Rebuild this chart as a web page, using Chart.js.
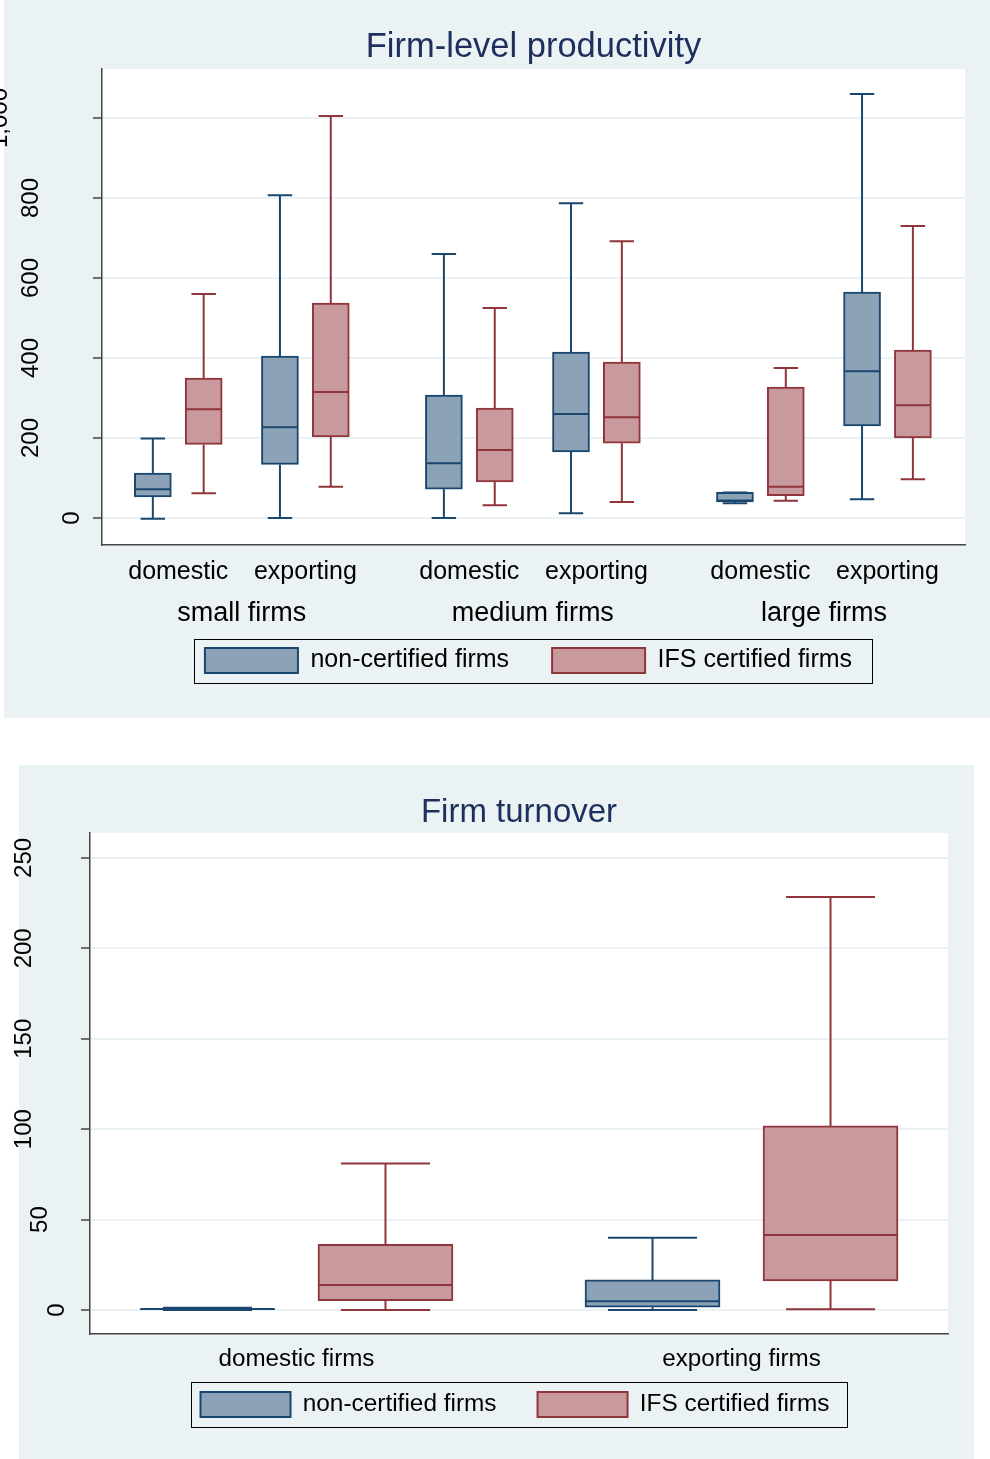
<!DOCTYPE html>
<html>
<head>
<meta charset="utf-8">
<script src="https://cdn.jsdelivr.net/npm/chart.js@4.4.1/dist/chart.umd.min.js"></script>
<style>
  body { margin: 0; background: #fff; }
  canvas { position: absolute; }
</style>
</head>
<body>
<canvas id="prod" width="990" height="718" style="left:0px;top:0px"></canvas>
<canvas id="turn" width="974" height="694" style="left:0px;top:765px"></canvas>
<script>
// ---- data: firm-level productivity (order: small dom, small exp, medium dom, medium exp, large dom, large exp)
const sizeGroups = ['small firms', 'medium firms', 'large firms'];
const tradeTypes = ['domestic', 'exporting'];
const prodNonLow  = [-2, 0, 0, 12, 37, 47];
const prodNonQ1   = [53, 134, 72, 165, 40, 230];
const prodNonMed  = [72, 227, 137, 260, 44, 367];
const prodNonQ3   = [112, 405, 307, 415, 64, 565];
const prodNonHigh = [199, 807, 660, 787, 64, 1060];
const prodIfsLow  = [62, 78, 32, 40, 43, 97];
const prodIfsQ1   = [184, 203, 90, 187, 56, 200];
const prodIfsMed  = [272, 315, 170, 252, 78, 282];
const prodIfsQ3   = [350, 537, 275, 390, 327, 420];
const prodIfsHigh = [560, 1005, 525, 692, 375, 730];
const prodTicks = [0, 200, 400, 600, 800, 1000];

// ---- data: firm turnover
const firmTypes = ['domestic firms', 'exporting firms'];
const turnNonLow  = [0, 0];
const turnNonQ1   = [0.2, 1.5];
const turnNonMed  = [0.5, 4.8];
const turnNonQ3   = [0.8, 16.6];
const turnNonHigh = [1.2, 40];
const turnIfsLow  = [0, 0.4];
const turnIfsQ1   = [5.2, 16];
const turnIfsMed  = [13.8, 41.5];
const turnIfsQ3   = [36.3, 101.8];
const turnIfsHigh = [81, 228.4];
const turnTicks = [0, 50, 100, 150, 200, 250];

const PANEL = '#eaf2f3';
const NAVY = '#1a476f', NAVY_FILL = '#8ca3b7';
const MAROON = '#90353b', MAROON_FILL = '#c89a9d';
const FONT = "'Liberation Sans', Arial, sans-serif";

// background: panel colour + white plot region
const bgPlugin = {
  id: 'bg',
  beforeDraw(chart, args, opts) {
    const {ctx, chartArea: a} = chart;
    ctx.save();
    ctx.fillStyle = PANEL;
    ctx.fillRect(opts.panelLeft, 0, chart.width - opts.panelLeft, chart.height);
    ctx.fillStyle = '#fff';
    ctx.fillRect(a.left, a.top, a.right - a.left, a.bottom - a.top);
    ctx.restore();
  }
};

// whiskers, caps and medians on top of the floating bars
const boxPlugin = {
  id: 'boxes',
  afterDatasetsDraw(chart) {
    const ctx = chart.ctx;
    const y = chart.scales.y;
    chart.data.datasets.forEach((ds, di) => {
      const meta = chart.getDatasetMeta(di);
      ctx.save();
      ctx.strokeStyle = ds.borderColor;
      ctx.lineWidth = 2;
      meta.data.forEach((bar, i) => {
        const x = bar.x, half = bar.width / 2, cap = bar.width * 0.33;
        const pLow = y.getPixelForValue(ds.low[i]);
        const pQ1 = y.getPixelForValue(ds.data[i].y[0]);
        const pQ3 = y.getPixelForValue(ds.data[i].y[1]);
        const pHigh = y.getPixelForValue(ds.high[i]);
        const pMed = y.getPixelForValue(ds.med[i]);
        ctx.beginPath();
        ctx.moveTo(x, pQ3); ctx.lineTo(x, pHigh);
        ctx.moveTo(x - cap, pHigh); ctx.lineTo(x + cap, pHigh);
        ctx.moveTo(x, pQ1); ctx.lineTo(x, pLow);
        ctx.moveTo(x - cap, pLow); ctx.lineTo(x + cap, pLow);
        ctx.moveTo(x - half + 1, pMed); ctx.lineTo(x + half - 1, pMed);
        ctx.stroke();
      });
      ctx.restore();
    });
  }
};

// rotated y tick labels (stata style), legend nudge and legend frame
const extrasPlugin = {
  id: 'extras',
  afterLayout(chart, args, opts) {
    const lg = chart.legend;
    lg.top -= opts.legendDy; lg.bottom -= opts.legendDy;
    lg.left += opts.legendDx; lg.right += opts.legendDx;
  },
  afterDraw(chart, args, opts) {
    const ctx = chart.ctx;
    const y = chart.scales.y;
    ctx.save();
    ctx.font = '24px ' + FONT;
    ctx.fillStyle = '#000';
    ctx.textAlign = 'center';
    ctx.textBaseline = 'middle';
    const w0 = ctx.measureText('0').width;
    y.ticks.forEach(t => {
      const txt = t.value.toLocaleString('en-US');
      const w = ctx.measureText(txt).width;
      const cx = y.right - (opts.labelOffset + opts.labelSlope * (w - w0));
      ctx.save();
      ctx.translate(cx, y.getPixelForValue(t.value));
      ctx.rotate(-Math.PI / 2);
      ctx.fillText(txt, 0, 0);
      ctx.restore();
    });
    const hb = chart.legend.legendHitBoxes;
    if (hb && hb.length) {
      const first = hb[0], last = hb[hb.length - 1];
      const f = opts.frame;
      const l = Math.round(first.left - f[0]), t = Math.round(first.top - f[1]);
      ctx.strokeStyle = '#000';
      ctx.lineWidth = 1;
      ctx.strokeRect(l + 0.5, t + 0.5,
        Math.round(last.left + last.width + f[2]) - l,
        Math.round(first.top + first.height + f[3]) - t);
    }
    ctx.restore();
  }
};

function boxDataset(label, xs, low, q1, med, q3, high, border, fill, thick) {
  return {
    label: label,
    data: xs.map((x, i) => ({x: x, y: [q1[i], q3[i]]})),
    low: low, med: med, high: high,
    backgroundColor: fill,
    borderColor: border,
    borderWidth: 2,
    borderSkipped: false,
    barThickness: thick,
    grouped: false
  };
}

function yAxis(min, max, ticks, width) {
  return {
    type: 'linear', min: min, max: max,
    afterBuildTicks: s => { s.ticks = ticks.map(v => ({value: v})); },
    afterFit: s => { s.width = width; },
    ticks: {display: false},
    grid: {color: PANEL, lineWidth: 2, tickLength: 9, tickColor: '#444', tickWidth: 1.5},
    border: {color: '#444', width: 1.5}
  };
}

// ---------- chart 1
const groupStep = 2.29;
const subPos = [];
for (let g = 0; g < sizeGroups.length; g++) {
  for (let s = 0; s < tradeTypes.length; s++) subPos.push(g * groupStep + s);
}
const groupPos = sizeGroups.map((_, g) => g * groupStep + 0.5);
const xMin1 = -0.6, xMax1 = (sizeGroups.length - 1) * groupStep + 1 + 0.61;

new Chart(document.getElementById('prod'), {
  type: 'bar',
  data: {
    datasets: [
      boxDataset('non-certified firms', subPos.map(p => p - 0.2), prodNonLow, prodNonQ1, prodNonMed, prodNonQ3, prodNonHigh, NAVY, NAVY_FILL, 37),
      boxDataset('IFS certified firms', subPos.map(p => p + 0.2), prodIfsLow, prodIfsQ1, prodIfsMed, prodIfsQ3, prodIfsHigh, MAROON, MAROON_FILL, 37)
    ]
  },
  options: {
    responsive: false,
    animation: false,
    layout: {padding: {left: 0, right: 25, top: 0, bottom: 7}},
    scales: {
      x: {
        type: 'linear', min: xMin1, max: xMax1, offset: false, weight: 0,
        afterBuildTicks: s => { s.ticks = subPos.map(v => ({value: v})); },
        afterFit: s => { s.height = 40; },
        ticks: {callback: (v, i) => tradeTypes[i % 2], color: '#000', font: {family: FONT, size: 25}, padding: 12, maxRotation: 0, autoSkip: false},
        grid: {display: false, drawTicks: false},
        border: {color: '#444', width: 1.5}
      },
      x2: {
        type: 'linear', axis: 'x', position: 'bottom', min: xMin1, max: xMax1, offset: false, weight: 1,
        afterBuildTicks: s => { s.ticks = groupPos.map(v => ({value: v})); },
        afterFit: s => { s.height = 48; },
        ticks: {callback: (v, i) => sizeGroups[i], color: '#000', font: {family: FONT, size: 27}, padding: 12, maxRotation: 0, autoSkip: false},
        grid: {display: false, drawTicks: false},
        border: {display: false}
      },
      y: yAxis(-67.5, 1122.5, prodTicks, 102)
    },
    plugins: {
      title: {
        display: true, text: 'Firm-level productivity', fullSize: false,
        color: '#1e2f5e', font: {family: FONT, size: 34.5, weight: 'normal'},
        padding: {top: 26.3, bottom: 1.3}
      },
      legend: {
        position: 'bottom', fullSize: false,
        labels: {boxWidth: 93, boxHeight: 25, padding: 43, color: '#000', font: {family: FONT, size: 25}}
      },
      tooltip: {enabled: false},
      bg: {panelLeft: 4},
      extras: {labelOffset: 29.5, labelSlope: 1.55, frame: [11, 9, 20, 10], legendDy: 28, legendDx: -5}
    }
  },
  plugins: [bgPlugin, boxPlugin, extrasPlugin]
});

// ---------- chart 2
const firmPos = firmTypes.map((_, i) => i);

new Chart(document.getElementById('turn'), {
  type: 'bar',
  data: {
    datasets: [
      boxDataset('non-certified firms', firmPos.map(p => p - 0.2), turnNonLow, turnNonQ1, turnNonMed, turnNonQ3, turnNonHigh, NAVY, NAVY_FILL, 135),
      boxDataset('IFS certified firms', firmPos.map(p => p + 0.2), turnIfsLow, turnIfsQ1, turnIfsMed, turnIfsQ3, turnIfsHigh, MAROON, MAROON_FILL, 135)
    ]
  },
  options: {
    responsive: false,
    animation: false,
    layout: {padding: {left: 0, right: 26, top: 0, bottom: 4}},
    scales: {
      x: {
        type: 'linear', min: -0.464, max: 1.464, offset: false,
        afterBuildTicks: s => { s.ticks = firmPos.map(v => ({value: v})); },
        afterFit: s => { s.height = 45; },
        ticks: {callback: (v, i) => firmTypes[i], color: '#000', font: {family: FONT, size: 24.2}, padding: 11, maxRotation: 0, autoSkip: false},
        grid: {display: false, drawTicks: false},
        border: {color: '#444', width: 1.5}
      },
      y: yAxis(-13.3, 263.8, turnTicks, 90)
    },
    plugins: {
      title: {
        display: true, text: 'Firm turnover', fullSize: false,
        color: '#1e2f5e', font: {family: FONT, size: 33, weight: 'normal'},
        padding: {top: 28.2, bottom: 0.2}
      },
      legend: {
        position: 'bottom', fullSize: false,
        labels: {boxWidth: 90, boxHeight: 25, padding: 41, color: '#000', font: {family: FONT, size: 24.4}}
      },
      tooltip: {enabled: false},
      bg: {panelLeft: 19},
      extras: {labelOffset: 32.5, labelSlope: 1.25, frame: [10, 10, 18, 10], legendDy: 28, legendDx: -4}
    }
  },
  plugins: [bgPlugin, boxPlugin, extrasPlugin]
});
</script>
</body>
</html>
